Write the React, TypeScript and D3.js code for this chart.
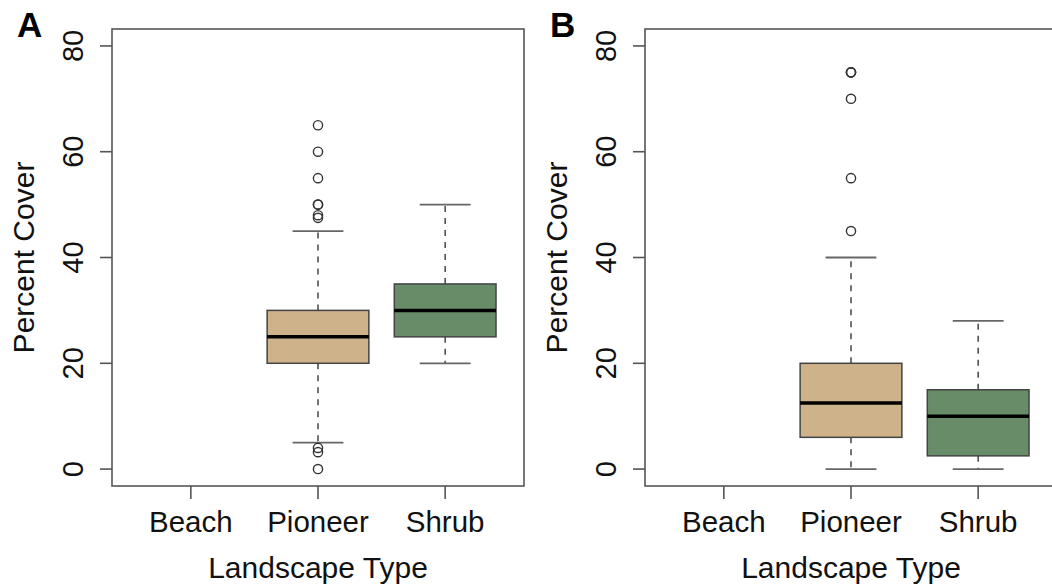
import React from "react";
import * as d3 from "d3";

const categories = ["Beach", "Pioneer", "Shrub"];
const yTicks = [0, 20, 40, 60, 80];
const panelLabels = ["A", "B"];

// boxplot stats per panel
const statsA = [
  { cat: "Pioneer", lo: 5, q1: 20, med: 25, q3: 30, hi: 45 },
  { cat: "Shrub", lo: 20, q1: 25, med: 30, q3: 35, hi: 50 },
];
const outliersA = [
  { cat: "Pioneer", values: [65, 60, 55, 50, 50, 48, 47.5, 4, 3.2, 0] },
];
const statsB = [
  { cat: "Pioneer", lo: 0, q1: 6, med: 12.5, q3: 20, hi: 40 },
  { cat: "Shrub", lo: 0, q1: 2.5, med: 10, q3: 15, hi: 28 },
];
const outliersB = [
  { cat: "Pioneer", values: [75, 75, 75, 70, 55, 45] },
];

const fills: Record<string, string> = { Pioneer: "#CDB28A", Shrub: "#698C68" };

const FONT = "'Liberation Sans', Arial, Helvetica, sans-serif";
const W = 1052;
const H = 585;
const top = 29;
const bottom = 486;
const plotW = 412;
const lefts = [112, 645];
const axisColor = "#555";

function Panel({ left, label, stats, outliers }: any) {
  const x = d3.scaleLinear().domain([0.38, 3.62]).range([left, left + plotW]);
  const y = d3.scaleLinear().domain([-3.2, 83.2]).range([bottom, top]);
  const band = x(2) - x(1);
  const boxW = band * 0.8;
  const capW = band * 0.4;
  const xi = (c: string) => x(categories.indexOf(c) + 1);
  return (
    <g>
      <text x={left - 95} y={37} fontFamily={FONT} fontWeight="bold" fontSize={35} fill="#000">
        {label}
      </text>
      {stats.map((s: any) => {
        const cx = xi(s.cat);
        return (
          <g key={s.cat}>
            <line x1={cx} x2={cx} y1={y(s.q3)} y2={y(s.hi)} stroke="#444" strokeWidth={1.5} strokeDasharray="6,6" />
            <line x1={cx} x2={cx} y1={y(s.q1)} y2={y(s.lo)} stroke="#444" strokeWidth={1.5} strokeDasharray="6,6" />
            <line x1={cx - capW / 2} x2={cx + capW / 2} y1={y(s.hi)} y2={y(s.hi)} stroke="#666" strokeWidth={1.8} />
            <line x1={cx - capW / 2} x2={cx + capW / 2} y1={y(s.lo)} y2={y(s.lo)} stroke="#666" strokeWidth={1.8} />
            <rect x={cx - boxW / 2} y={y(s.q3)} width={boxW} height={y(s.q1) - y(s.q3)} fill={fills[s.cat]} stroke="#444" strokeWidth={1.5} />
            <line x1={cx - boxW / 2} x2={cx + boxW / 2} y1={y(s.med)} y2={y(s.med)} stroke="#000" strokeWidth={3.5} />
          </g>
        );
      })}
      {outliers.map((o: any) =>
        o.values.map((v: number, i: number) => (
          <circle key={o.cat + i} cx={xi(o.cat)} cy={y(v)} r={4.6} fill="none" stroke="#333" strokeWidth={1.4} />
        ))
      )}
      <rect x={left} y={top} width={plotW} height={bottom - top} fill="none" stroke={axisColor} strokeWidth={1.6} />
      {yTicks.map((t) => (
        <g key={t}>
          <line x1={left - 12} x2={left} y1={y(t)} y2={y(t)} stroke={axisColor} strokeWidth={1.6} />
          <text
            transform={`translate(${left - 29},${y(t)}) rotate(-90)`}
            textAnchor="middle"
            fontFamily={FONT}
            fontSize={29}
            fill="#111"
          >
            {t}
          </text>
        </g>
      ))}
      {categories.map((c, i) => (
        <g key={c}>
          <line x1={x(i + 1)} x2={x(i + 1)} y1={bottom} y2={bottom + 13} stroke={axisColor} strokeWidth={1.6} />
          <text x={x(i + 1)} y={532} textAnchor="middle" fontFamily={FONT} fontSize={29.5} fill="#111">
            {c}
          </text>
        </g>
      ))}
      <text x={left + plotW / 2} y={578} textAnchor="middle" fontFamily={FONT} fontSize={30} fill="#111">
        Landscape Type
      </text>
      <text
        transform={`translate(${left - 78},${(top + bottom) / 2}) rotate(-90)`}
        textAnchor="middle"
        fontFamily={FONT}
        fontSize={30}
        fill="#111"
      >
        Percent Cover
      </text>
    </g>
  );
}

export default function App() {
  return (
    <svg width={W} height={H} style={{ position: "absolute", left: 0, top: 0, background: "#fff" }}>
      <rect width={W} height={H} fill="#fff" />
      <Panel left={lefts[0]} label={panelLabels[0]} stats={statsA} outliers={outliersA} />
      <Panel left={lefts[1]} label={panelLabels[1]} stats={statsB} outliers={outliersB} />
    </svg>
  );
}
